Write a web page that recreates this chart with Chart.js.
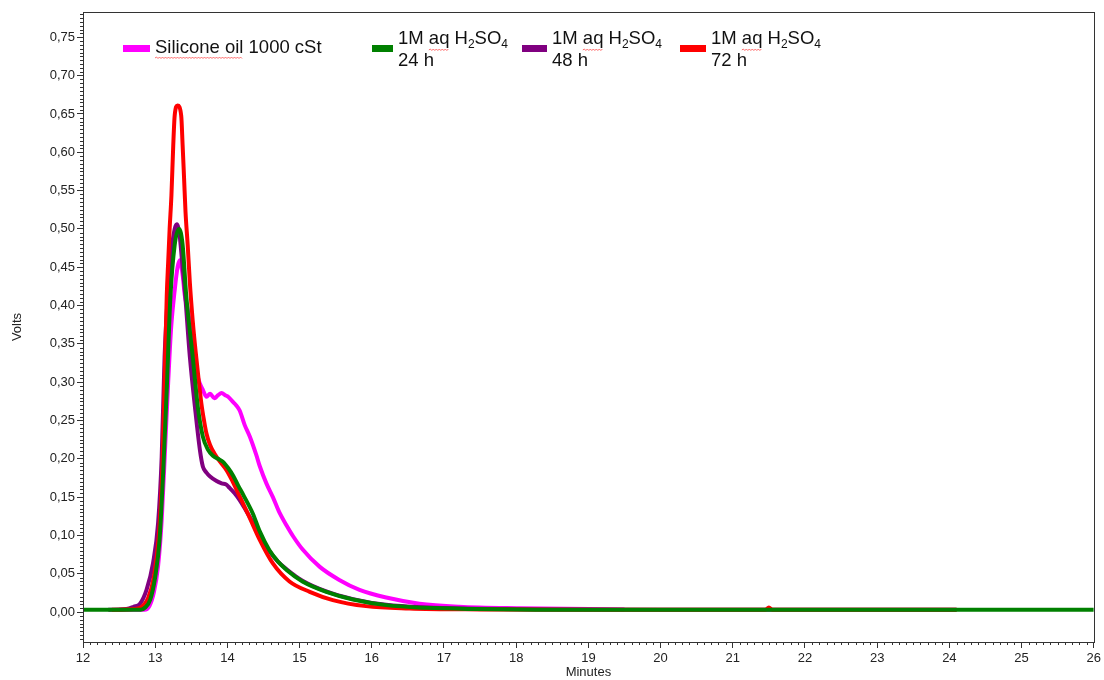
<!DOCTYPE html>
<html>
<head>
<meta charset="utf-8">
<script src="https://cdn.jsdelivr.net/npm/chart.js@4.4.1/dist/chart.umd.min.js"></script>
<style>
    html, body { margin: 0; padding: 0; background: #fff; }
</style>
</head>
<body>
<canvas id="myChart" width="1104" height="680"></canvas>
<script>
// axis ticks
const xTicks = [12, 13, 14, 15, 16, 17, 18, 19, 20, 21, 22, 23, 24, 25, 26];
const yTicks = [0, 0.05, 0.1, 0.15, 0.2, 0.25, 0.3, 0.35, 0.4, 0.45, 0.5, 0.55, 0.6, 0.65, 0.7, 0.75];

// Silicone oil 1000 cSt (magenta)
const siliconeT = [12.5, 12.85, 12.92, 12.98, 13.04, 13.09, 13.14, 13.18, 13.22, 13.27, 13.31, 13.34, 13.38, 13.41, 13.45, 13.5, 13.55, 13.59, 13.62, 13.66, 13.71, 13.76, 13.82, 13.87, 13.92, 13.97, 14.01, 14.08, 14.12, 14.17, 14.24, 14.31, 14.4, 14.45, 14.54, 14.63, 14.72, 14.82, 14.91, 15.04, 15.28, 15.55, 15.83, 16.2, 16.66, 17.21, 18.04, 19.5];
const siliconeV = [0.003, 0.003, 0.008, 0.025, 0.06, 0.12, 0.22, 0.3, 0.37, 0.42, 0.45, 0.459, 0.44, 0.413, 0.395, 0.365, 0.33, 0.307, 0.298, 0.29, 0.281, 0.285, 0.279, 0.283, 0.286, 0.283, 0.281, 0.274, 0.27, 0.263, 0.244, 0.229, 0.205, 0.19, 0.168, 0.15, 0.13, 0.113, 0.099, 0.082, 0.059, 0.042, 0.029, 0.019, 0.011, 0.007, 0.005, 0.0035];

// 1M aq H2SO4 24 h (green)
const h24T = [12, 12.8, 12.86, 12.93, 13, 13.06, 13.11, 13.16, 13.21, 13.27, 13.33, 13.38, 13.43, 13.52, 13.59, 13.66, 13.73, 13.8, 13.87, 13.94, 14.01, 14.08, 14.15, 14.22, 14.35, 14.45, 14.58, 14.7, 14.82, 15.04, 15.37, 15.74, 16.2, 16.75, 17.44, 18.5, 20, 22, 24, 26];
const h24V = [0.003, 0.003, 0.006, 0.016, 0.046, 0.094, 0.181, 0.29, 0.41, 0.479, 0.5, 0.479, 0.413, 0.333, 0.268, 0.229, 0.212, 0.204, 0.2, 0.196, 0.188, 0.178, 0.165, 0.153, 0.129, 0.105, 0.081, 0.066, 0.055, 0.04, 0.0265, 0.0165, 0.0091, 0.0056, 0.004, 0.003, 0.003, 0.003, 0.003, 0.003];

// 1M aq H2SO4 48 h (purple)
const h48T = [12.35, 12.6, 12.7, 12.79, 12.88, 12.97, 13.04, 13.09, 13.13, 13.18, 13.23, 13.27, 13.3, 13.34, 13.37, 13.41, 13.48, 13.55, 13.62, 13.66, 13.71, 13.76, 13.85, 13.92, 13.99, 14.03, 14.1, 14.17, 14.31, 14.45, 14.58, 14.7, 14.82, 15.04, 15.37, 15.74, 16.2, 16.75, 17.44, 18.5, 20, 22, 24.1];
const h48V = [0.003, 0.004, 0.007, 0.011, 0.029, 0.064, 0.116, 0.203, 0.333, 0.42, 0.475, 0.5, 0.506, 0.49, 0.46, 0.42, 0.333, 0.268, 0.211, 0.19, 0.182, 0.177, 0.171, 0.168, 0.166, 0.162, 0.155, 0.146, 0.124, 0.1, 0.08, 0.066, 0.056, 0.041, 0.027, 0.017, 0.0095, 0.006, 0.0045, 0.0035, 0.003, 0.003, 0.003];

// 1M aq H2SO4 72 h (red)
const h72T = [12.4, 12.7, 12.8, 12.9, 12.98, 13.05, 13.1, 13.13, 13.16, 13.18, 13.2, 13.225, 13.25, 13.27, 13.31, 13.36, 13.38, 13.4, 13.42, 13.45, 13.48, 13.52, 13.56, 13.6, 13.64, 13.68, 13.71, 13.76, 13.82, 13.9, 13.99, 14.07, 14.15, 14.3, 14.45, 14.63, 14.86, 15.14, 15.46, 15.92, 16.52, 17.5, 19, 21.45, 21.5, 21.55, 22.1, 24.1];
const h72V = [0.003, 0.004, 0.006, 0.018, 0.045, 0.1, 0.19, 0.3, 0.413, 0.457, 0.5, 0.544, 0.609, 0.648, 0.661, 0.648, 0.609, 0.566, 0.522, 0.479, 0.43, 0.38, 0.34, 0.305, 0.272, 0.248, 0.233, 0.218, 0.207, 0.196, 0.185, 0.171, 0.155, 0.125, 0.094, 0.0635, 0.04, 0.0265, 0.0157, 0.0078, 0.0048, 0.0035, 0.003, 0.003, 0.006, 0.003, 0.003, 0.003];

const seriesLabels = [['Silicone oil 1000 cSt'], ['1M aq H_2SO_4', '24 h'], ['1M aq H_2SO_4', '48 h'], ['1M aq H_2SO_4', '72 h']];
const seriesColors = ['#ff00ff', '#008000', '#800080', '#ff0000'];

const legendX = [123, 372, 522, 680];
const legendBoxW = [27, 21, 25, 26];
const fontFamily = '"Liberation Sans", Arial, sans-serif';

let pts = (ts, vs) => ts.map((t, i) => ({ x: t, y: vs[i] }));

// draws "H_2SO_4" with real subscripts
let drawRich = (ctx, str, x, y, size) => {
    let parts = str.split(/_(\d)/);
    parts.forEach((p, i) => {
        if (i % 2 === 1) {
            ctx.font = (size * 0.65) + 'px ' + fontFamily;
            ctx.fillText(p, x, y + size * 0.28);
        } else {
            ctx.font = size + 'px ' + fontFamily;
            ctx.fillText(p, x, y);
        }
        x += ctx.measureText(p).width;
    });
};

let squiggle = (ctx, x0, x1, y) => {
    ctx.beginPath();
    ctx.moveTo(x0, y);
    let up = true;
    for (let x = x0 + 1.5; x <= x1; x += 1.5) {
        ctx.lineTo(x, up ? y - 1 : y + 0.5);
        up = !up;
    }
    ctx.strokeStyle = '#ff3030';
    ctx.lineWidth = 0.7;
    ctx.stroke();
};

const framePlugin = {
    id: 'frame',
    afterDraw(chart) {
        const { ctx, chartArea: a } = chart;
        const xs = chart.scales.x, ys = chart.scales.y;
        ctx.save();
        ctx.strokeStyle = '#333';
        ctx.lineWidth = 1;
        ctx.strokeRect(Math.round(a.left) + 0.5, Math.round(a.top) + 0.5, Math.round(a.right - a.left), Math.round(a.bottom - a.top));

        // minor ticks
        ctx.beginPath();
        for (let t = 12.1; t < 26; t += 0.1) {
            if (Math.abs(t - Math.round(t)) < 0.01) continue;
            let px = Math.round(xs.getPixelForValue(t)) + 0.5;
            ctx.moveTo(px, a.bottom);
            ctx.lineTo(px, a.bottom + 3);
        }
        for (let v = -0.035; v < ys.max; v += 0.005) {
            let k = v / 0.05;
            if (Math.abs(k - Math.round(k)) < 0.01) continue;
            let py = Math.round(ys.getPixelForValue(v)) + 0.5;
            ctx.moveTo(a.left - 3, py);
            ctx.lineTo(a.left, py);
        }
        ctx.stroke();

        // legend
        ctx.textBaseline = 'middle';
        seriesLabels.forEach((lines, i) => {
            let x = legendX[i];
            ctx.fillStyle = seriesColors[i];
            ctx.fillRect(x, 45, legendBoxW[i], 7);
            ctx.fillStyle = '#111';
            let tx = x + legendBoxW[i] + 5;
            if (lines.length === 1) {
                drawRich(ctx, lines[0], tx, 48, 18.5);
                ctx.font = '18.5px ' + fontFamily;
                squiggle(ctx, tx, tx + ctx.measureText('Silicone oil').width, 58);
            } else {
                drawRich(ctx, lines[0], tx, 39, 18.5);
                drawRich(ctx, lines[1], tx, 61, 18.5);
                ctx.font = '18.5px ' + fontFamily;
                let s = tx + ctx.measureText('1M ').width;
                squiggle(ctx, s, s + ctx.measureText('aq').width, 50);
            }
        });
        ctx.restore();
    }
};

const ctx = document.getElementById('myChart');

let datasets = seriesLabels.map((lab, i) => ({
    label: lab.join(' '),
    borderColor: seriesColors[i],
    borderWidth: 4,
    pointRadius: 0,
    fill: false,
    cubicInterpolationMode: 'monotone',
    order: [3, 0, 2, 1][i],
    data: [pts(siliconeT, siliconeV), pts(h24T, h24V), pts(h48T, h48V), pts(h72T, h72V)][i]
}));

let chart = new Chart(ctx, {
    type: 'line',
    data: { datasets },
    plugins: [framePlugin],
    options: {
        responsive: false,
        animation: false,
        layout: { padding: { top: 12, right: 8, left: 0, bottom: 0 } },
        plugins: {
            legend: { display: false },
            tooltip: { enabled: false }
        },
        scales: {
            x: {
                type: 'linear',
                min: 12,
                max: 26,
                border: { color: '#333', width: 1 },
                grid: { drawOnChartArea: false, drawTicks: true, tickLength: 6, tickColor: '#333' },
                ticks: {
                    autoSkip: false,
                    maxRotation: 0,
                    padding: 3,
                    color: '#222',
                    font: { family: fontFamily, size: 13 },
                    callback: v => String(v)
                },
                afterBuildTicks: s => { s.ticks = xTicks.map(v => ({ value: v })); },
                afterFit: s => { s.height = 38; },
                title: {
                    display: true,
                    text: 'Minutes',
                    color: '#222',
                    font: { family: fontFamily, size: 13 },
                    padding: { top: 0, bottom: 0 }
                }
            },
            y: {
                type: 'linear',
                min: -0.039,
                max: 0.783,
                border: { color: '#333', width: 1 },
                grid: { drawOnChartArea: false, drawTicks: true, tickLength: 6, tickColor: '#333' },
                ticks: {
                    autoSkip: false,
                    padding: 2,
                    color: '#222',
                    font: { family: fontFamily, size: 13 },
                    callback: v => v.toFixed(2).replace('.', ',')
                },
                afterBuildTicks: s => { s.ticks = yTicks.map(v => ({ value: v })); },
                afterFit: s => { s.width = 83; },
                title: {
                    display: true,
                    text: 'Volts',
                    color: '#222',
                    font: { family: fontFamily, size: 13 },
                    padding: { top: 10, bottom: 0 }
                }
            }
        }
    }
});
</script>
</body>
</html>
